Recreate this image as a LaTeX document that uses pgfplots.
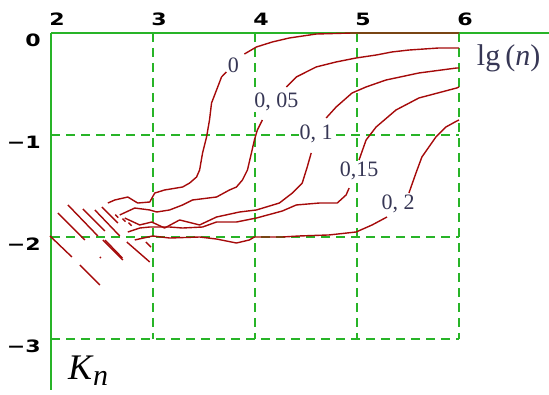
\documentclass[border=0pt]{standalone}
\usepackage{pgfplots}
\pgfplotsset{compat=1.18}
\usepackage{fontspec}
\setmainfont{Liberation Serif}
\newfontfamily\tickfont[FakeStretch=1.3]{DejaVu Sans}
\definecolor{gr}{RGB}{40,180,40}
\definecolor{cr}{RGB}{165,10,10}
\definecolor{lab}{RGB}{55,55,85}
\tikzset{cv/.style={cr, line width=1.4pt, line join=round, mark=none},
  gd/.style={gr, line width=2pt, dash pattern=on 9pt off 6pt, mark=none},
  ax/.style={gr, line width=2pt, mark=none}}
\begin{document}
\begin{tikzpicture}
\begin{axis}[scale only axis, width=549pt, height=394pt,
  xmin=1.5, xmax=6.88235, ymin=-3.53922, ymax=0.32353,
  hide axis, clip=false]
% grid
\addplot[gd] coordinates {(3,0) (3,-3)};
\addplot[gd] coordinates {(4,0) (4,-3)};
\addplot[gd] coordinates {(5,0) (5,-3)};
\addplot[gd] coordinates {(6,0) (6,-3)};
\addplot[gd] coordinates {(2,-1) (6,-1)};
\addplot[gd] coordinates {(2,-2) (6,-2)};
\addplot[gd] coordinates {(2,-3) (6,-3)};
% axis lines
\addplot[ax] coordinates {(2,0) (6.88235,0)};
\addplot[ax] coordinates {(2,0) (2,-3.5)};
% diagonal strokes
\addplot[cv] coordinates {(1.990,-1.990) (2.205,-2.196)};
\addplot[cv] coordinates {(2.283,-2.275) (2.479,-2.471)};
\addplot[cv] coordinates {(2.068,-1.765) (2.332,-2.029)};
\addplot[cv] coordinates {(2.166,-1.686) (2.459,-1.990)};
\addplot[cv] coordinates {(2.508,-2.029) (2.704,-2.225)};
\addplot[cv] coordinates {(2.313,-1.725) (2.528,-1.941)};
\addplot[cv] coordinates {(2.743,-2.049) (2.968,-2.245)};
\addplot[cv] coordinates {(2.430,-1.735) (2.674,-1.990)};
\addplot[cv] coordinates {(2.499,-1.706) (2.655,-1.863)};
\addplot[cv] coordinates {(2.479,-2.196) (2.489,-2.206)};
\addplot[cv] coordinates {(2.530,-2.030) (2.700,-2.206)};
\addplot[cv] coordinates {(2.630,-1.780) (2.660,-1.810)};
\addplot[cv] coordinates {(2.700,-1.820) (2.730,-1.850)};
\addplot[cv] coordinates {(2.760,-1.860) (2.790,-1.890)};
\addplot[cv] coordinates {(2.930,-2.050) (2.980,-2.100)};
% curve 0
\addplot[cv] coordinates {(2.557,-1.667) (2.626,-1.637) (2.753,-1.608) (2.850,-1.667) (2.968,-1.657) (3.017,-1.569) (3.114,-1.539) (3.290,-1.510) (3.359,-1.471) (3.427,-1.412) (3.457,-1.343) (3.486,-1.176) (3.525,-1.020) (3.554,-0.853) (3.574,-0.686) (3.623,-0.559) (3.672,-0.431) (3.720,-0.382)};
\addplot[cv] coordinates {(3.896,-0.206) (4.014,-0.137) (4.170,-0.088) (4.336,-0.049) (4.600,-0.010) (4.952,0) (6.0,0)};
% curve 0.05
\addplot[cv] coordinates {(2.674,-1.784) (2.821,-1.716) (2.968,-1.735) (3.036,-1.755) (3.163,-1.735) (3.290,-1.686) (3.388,-1.637) (3.623,-1.608) (3.750,-1.539) (3.818,-1.510) (3.877,-1.441) (3.926,-1.343) (3.965,-1.176) (3.994,-1.049) (4.023,-0.951) (4.072,-0.853)};
\addplot[cv] coordinates {(4.307,-0.529) (4.405,-0.431) (4.600,-0.333) (4.796,-0.284) (4.991,-0.245) (5.187,-0.216) (5.343,-0.186) (5.509,-0.167) (5.802,-0.147) (6.0,-0.147)};
% curve 0.1
\addplot[cv] coordinates {(2.723,-1.814) (2.870,-1.882) (2.987,-1.853) (3.114,-1.912) (3.261,-1.833) (3.457,-1.882) (3.623,-1.804) (3.848,-1.755) (4.014,-1.735) (4.239,-1.667) (4.366,-1.569) (4.463,-1.471) (4.512,-1.314) (4.551,-1.176)};
\addplot[cv] coordinates {(4.698,-0.833) (4.796,-0.725) (4.952,-0.588) (5.089,-0.529) (5.284,-0.461) (5.607,-0.392) (5.978,-0.343) (6.0,-0.343)};
% curve 0.15
\addplot[cv] coordinates {(2.753,-1.951) (2.870,-1.912) (2.968,-1.902) (3.163,-1.902) (3.290,-1.912) (3.486,-1.902) (3.623,-1.853) (3.818,-1.853) (4.014,-1.814) (4.268,-1.745) (4.405,-1.686) (4.630,-1.667) (4.806,-1.667) (4.893,-1.588) (4.923,-1.520)};
\addplot[cv] coordinates {(5.020,-1.245) (5.089,-1.049) (5.187,-0.922) (5.382,-0.755) (5.607,-0.637) (5.978,-0.539) (6.0,-0.529)};
% curve 0.2
\addplot[cv] coordinates {(2.821,-2.029) (2.997,-1.990) (3.163,-2.010) (3.457,-2.000) (3.623,-2.020) (3.818,-2.059) (3.945,-2.029) (3.994,-2.000) (4.268,-2.000) (4.434,-1.990) (4.727,-1.980) (4.991,-1.951) (5.148,-1.882) (5.294,-1.804)};
\addplot[cv] coordinates {(5.509,-1.569) (5.578,-1.373) (5.636,-1.216) (5.773,-1.020) (5.871,-0.922) (5.978,-0.863) (6.0,-0.853)};
% curve labels
\tikzset{cl/.style={text=lab, fill=white, inner sep=1pt, font=\fontsize{22}{22}\selectfont}}
\node[cl] at (axis cs:3.789,-0.314) {0};
\node[cl] at (axis cs:4.209,-0.676) {0, 05};
\node[cl] at (axis cs:4.600,-0.990) {0, 1};
\node[cl] at (axis cs:5.020,-1.353) {0,15};
\node[cl] at (axis cs:5.402,-1.676) {0, 2};
% tick labels
\tikzset{tl/.style={inner sep=0pt, font=\tickfont\bfseries\fontsize{17}{17}\selectfont}}
\node[tl] at (axis cs:2.059,0.132) {2};
\node[tl] at (axis cs:3.059,0.132) {3};
\node[tl] at (axis cs:4.059,0.132) {4};
\node[tl] at (axis cs:5.059,0.132) {5};
\node[tl] at (axis cs:6.059,0.132) {6};
\node[tl, anchor=east] at (axis cs:1.902,-0.069) {0};
\node[tl, anchor=east] at (axis cs:1.902,-1.069) {−1};
\node[tl, anchor=east] at (axis cs:1.902,-2.069) {−2};
\node[tl, anchor=east] at (axis cs:1.902,-3.069) {−3};
% axis names
\node[anchor=base west, inner sep=0pt, text=lab, font=\fontsize{30}{30}\selectfont] at (axis cs:6.174,-0.314) {lg\,(\textit{n})};
\node[anchor=base west, inner sep=0pt, text=black] at (axis cs:2.166,-3.40) {\fontsize{36}{36}\selectfont\itshape K\kern1pt\raisebox{-6pt}{\fontsize{30}{30}\selectfont n}};
\end{axis}
\pgfresetboundingbox
\path (current axis.south west) rectangle (current axis.north east);
\end{tikzpicture}
\end{document}
